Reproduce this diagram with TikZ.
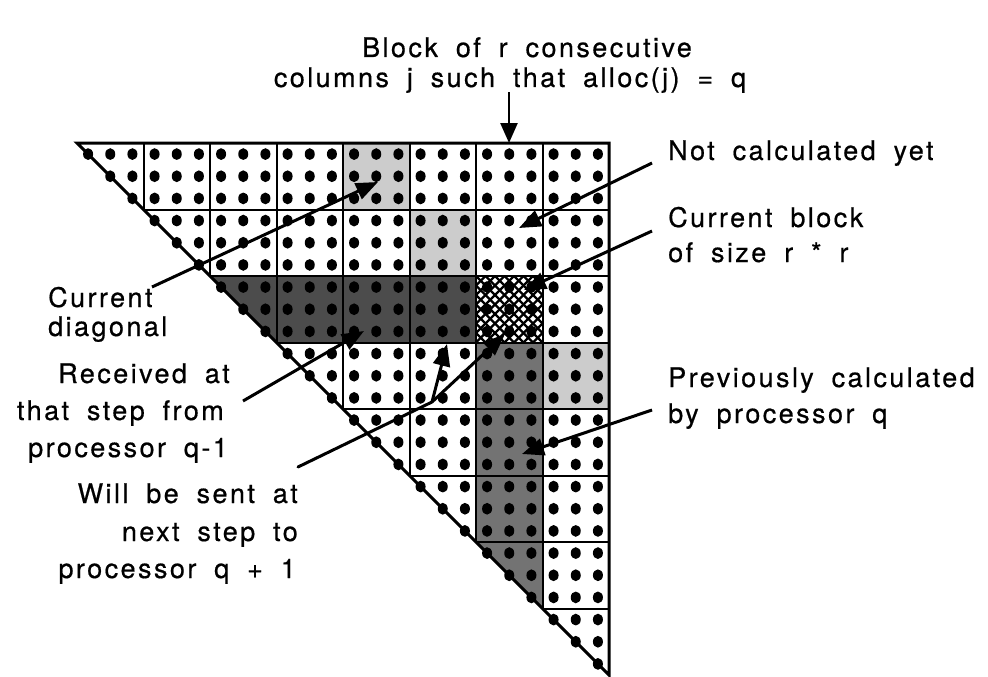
\documentclass[tikz,border=0pt]{standalone}
\usepackage{fontspec}
\setmainfont{TeX Gyre Heros}[LetterSpace=9,WordSpace=1.8,FakeBold=0.6]
\usetikzlibrary{arrows.meta}
\tikzset{
  lbl/.style={font=\fontsize{27}{32}\selectfont, inner sep=0pt},
  conn/.style={line width=3pt, -{Triangle[length=22pt,width=17pt]}},
  topconn/.style={line width=2.5pt, -{Triangle[length=20pt,width=17pt]}},
  gridline/.style={line width=2pt},
  outline/.style={line width=3pt, line join=miter},
  lightcell/.style={fill=black!20},
  darkcell/.style={fill=black!70},
  darkcol/.style={fill=black!55},
  hatchline/.style={line width=2.4pt},
}
\begin{document}
\begin{tikzpicture}[x=1pt,y=-1pt]
\useasboundingbox (0,0) rectangle (988,677);
\def\S{66.5}
% light cells (current diagonal)
\foreach \r/\c in {0/4,1/5,3/7}
  \fill[lightcell] ({77+\c*\S},{143+\r*\S}) rectangle ++(\S,\S);
% dark row
\foreach \c in {3,4,5}
  \fill[darkcell] ({77+\c*\S},{143+2*\S}) rectangle ++(\S,\S);
\fill[darkcell] ({77+2*\S},{143+2*\S}) -- ++(\S,0) -- ++(0,\S) -- cycle;
% dark column
\foreach \r in {3,4,5}
  \fill[darkcol] ({77+6*\S},{143+\r*\S}) rectangle ++(\S,\S);
\fill[darkcol] ({77+6*\S},{143+6*\S}) -- ++(\S,0) -- ++(0,\S) -- cycle;
% current block crosshatch
\begin{scope}
  \clip ({77+6*\S},{143+2*\S}) rectangle ++(\S,\S);
  \foreach \k in {-9,...,8} {
    \draw[hatchline] ({476+\k*9.5},276) -- ++(80,80);
    \draw[hatchline] ({476+\k*9.5},342.5) -- ++(80,-80);
  }
\end{scope}
% dots
\foreach \r in {0,...,7} {
  \foreach \c in {\r,...,7} {
    \foreach \i in {0,1,2} {
      \foreach \j in {0,1,2} {
        \pgfmathtruncatemacro\ok{or(\c>\r,\j>=\i)}
        \ifnum\ok=1
          \fill ({77+\c*\S+(2*\j+1)*\S/6},{143+\r*\S+(2*\i+1)*\S/6}) ellipse [x radius=5pt, y radius=5.9pt];
        \fi
      }
    }
  }
}
% grid
\foreach \k in {1,...,7} {
  \draw[gridline] ({77+\k*\S},{143+\k*\S}) -- (609,{143+\k*\S});
  \draw[gridline] ({77+\k*\S},143) -- ({77+\k*\S},{143+\k*\S});
}
\draw[outline] (77,143) -- (609,143) -- (609,675) -- cycle;
% texts
\node[lbl, anchor=base] (top1) at (527,57) {Block of r consecutive};
\node[lbl, anchor=base] (top2) at (510,87) {columns j such that alloc(j) = q};
\node[lbl, anchor=base west] (nc) at (668,160) {Not calculated yet};
\node[lbl, anchor=base west] (cb1) at (668,227) {Current block};
\node[lbl, anchor=base west] (cb2) at (668,262) {of size r * r};
\node[lbl, anchor=base west] (pc1) at (668,387) {Previously calculated};
\node[lbl, anchor=base west] (pc2) at (668,423) {by processor q};
\node[lbl, anchor=base west] (cd1) at (48,307) {Current};
\node[lbl, anchor=base west] (cd2) at (48,336) {diagonal};
\node[lbl, anchor=base east] (rc1) at (230,383) {Received at};
\node[lbl, anchor=base east] (rc2) at (224,420) {that step from};
\node[lbl, anchor=base east] (rc3) at (228,457) {processor q-1};
\node[lbl, anchor=base east] (ws1) at (298,503) {Will be sent at};
\node[lbl, anchor=base east] (ws2) at (298,541) {next step to};
\node[lbl, anchor=base east] (ws3) at (296,578) {processor q + 1};
% connector end points
\coordinate (topS) at (509,92);  \coordinate (topT) at (509,143);
\coordinate (cdS) at (152,287);  \coordinate (cdT) at (378,182);
\coordinate (ncS) at (652,163);  \coordinate (ncT) at (519,228);
\coordinate (cbS) at (652,231);  \coordinate (cbT) at (524,290);
\coordinate (pcS) at (652,410);  \coordinate (pcT) at (522,454);
\coordinate (rcS) at (243,401);  \coordinate (rcT) at (364,331);
\coordinate (wsS) at (298,467);  \coordinate (wsB) at (432,402);
\coordinate (wsT) at (505,334);  \coordinate (wbT) at (447,344);
% connectors
\draw[topconn] (topS) -- (topT);
\draw[conn] (cdS) -- (cdT);
\draw[conn] (ncS) -- (ncT);
\draw[conn] (cbS) -- (cbT);
\draw[conn] (pcS) -- (pcT);
\draw[conn] (rcS) -- (rcT);
\draw[line width=3pt, line cap=round] (wsS) -- (wsB);
\draw[conn] (wsB) -- (wsT);
\draw[conn] (wsB) -- (wbT);
\end{tikzpicture}
\end{document}
